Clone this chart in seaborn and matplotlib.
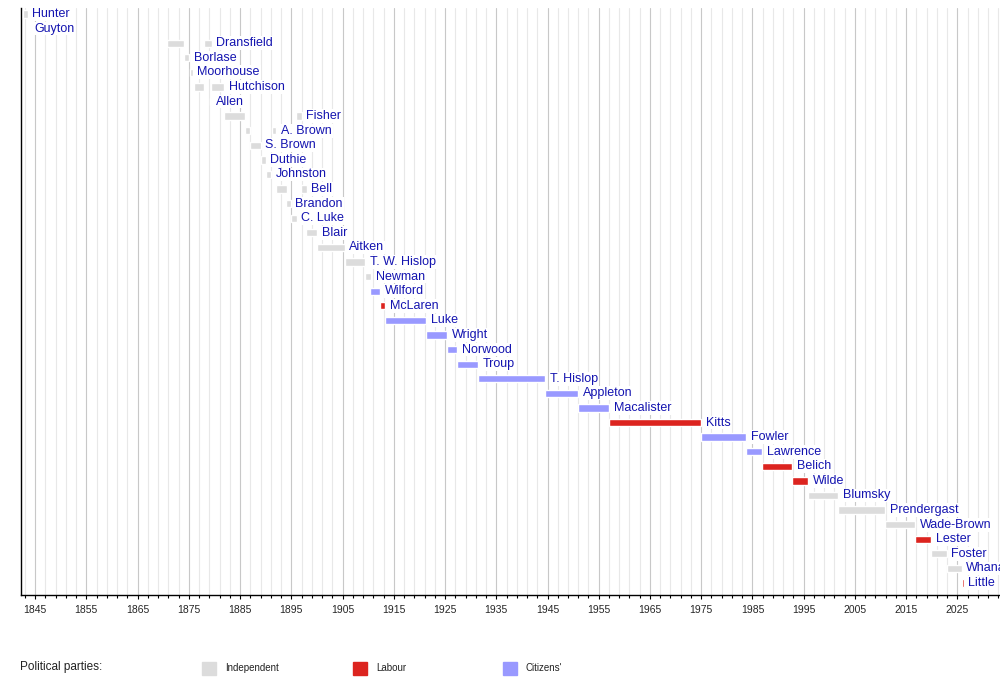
import pandas as pd
import matplotlib.pyplot as plt
import seaborn as sns
from matplotlib.patches import Rectangle
from matplotlib.ticker import MultipleLocator

# Rows of the timeline (top to bottom)
mayors = ["Hunter", "Guyton", "Dransfield", "Borlase", "Moorhouse", "Hutchison",
          "Allen", "Fisher", "A. Brown", "S. Brown", "Duthie", "Johnston", "Bell",
          "Brandon", "C. Luke", "Blair", "Aitken", "T. W. Hislop", "Newman",
          "Wilford", "McLaren", "Luke", "Wright", "Norwood", "Troup", "T. Hislop",
          "Appleton", "Macalister", "Kitts", "Fowler", "Lawrence", "Belich",
          "Wilde", "Blumsky", "Prendergast", "Wade-Brown", "Lester", "Foster",
          "Whanau", "Little"]

# Terms in office (one entry per term)
term_mayor = ["Hunter", "Guyton", "Dransfield", "Borlase", "Moorhouse", "Hutchison",
              "Dransfield", "Allen", "Hutchison", "Fisher", "A. Brown", "S. Brown",
              "Duthie", "Johnston", "A. Brown", "Bell", "Brandon", "C. Luke",
              "Fisher", "Bell", "Blair", "Aitken", "T. W. Hislop", "Newman",
              "Wilford", "McLaren", "Luke", "Wright", "Norwood", "Troup",
              "T. Hislop", "Appleton", "Macalister", "Kitts", "Fowler", "Lawrence",
              "Belich", "Wilde", "Blumsky", "Prendergast", "Wade-Brown", "Lester",
              "Foster", "Whanau", "Little"]
term_start = [1842.7, 1843.75, 1870.7, 1874.05, 1875.2, 1876.0,
              1878.0, 1879.1, 1879.4, 1881.9, 1886.0, 1887.0,
              1889.0, 1890.0, 1891.2, 1892.0, 1894.0, 1895.0,
              1896.0, 1896.9, 1897.9, 1900.1, 1905.4, 1909.4,
              1910.4, 1912.4, 1913.3, 1921.3, 1925.4, 1927.4,
              1931.5, 1944.6, 1951.0, 1957.0, 1975.0, 1983.8,
              1986.9, 1992.8, 1995.9, 2001.7, 2010.9, 2016.8,
              2019.9, 2022.9, 2025.8]
term_end = [1843.6, 1843.95, 1874.05, 1875.05, 1875.8, 1878.0,
            1879.5, 1879.35, 1881.9, 1886.0, 1887.0, 1889.0,
            1890.0, 1891.0, 1892.1, 1894.2, 1894.9, 1896.1,
            1897.0, 1898.0, 1900.1, 1905.4, 1909.4, 1910.6,
            1912.4, 1913.3, 1921.3, 1925.4, 1927.4, 1931.5,
            1944.6, 1951.0, 1957.0, 1975.0, 1983.8, 1986.9,
            1992.8, 1995.9, 2001.7, 2010.9, 2016.8, 2019.9,
            2022.9, 2025.8, 2026.2]
term_party = ["Independent"] * 24 + ["Citizens'", "Labour"] + ["Citizens'"] * 7 + \
             ["Labour", "Citizens'", "Citizens'", "Labour", "Labour",
              "Independent", "Independent", "Independent", "Labour",
              "Independent", "Independent", "Labour"]

parties = ["Independent", "Labour", "Citizens'"]
party_colors = {"Independent": "#dcdcdc", "Labour": "#dc241f", "Citizens'": "#9999ff"}

terms = pd.DataFrame({"mayor": term_mayor, "start": term_start,
                      "end": term_end, "party": term_party})
terms["row"] = terms["mayor"].map({m: i for i, m in enumerate(mayors)})

sns.set_theme(style="white")
plt.rcParams["font.family"] = ["Liberation Sans", "DejaVu Sans"]

fig = plt.figure(figsize=(10, 6.95), dpi=100)
ax = fig.add_axes([0.0207, 0.1439, 0.9793, 0.8446])
ax.set_axisbelow(True)

ax.barh(terms["row"], terms["end"] - terms["start"], left=terms["start"],
        height=0.5, color=terms["party"].map(party_colors), zorder=3)

# Names after each mayor's last bar, on a white patch that hides the grid
last_end = terms.groupby("row")["end"].max()
for row, end in last_end.items():
    ax.annotate(mayors[row], (end, row), xytext=(3.3, 0), textcoords="offset points",
                ha="left", va="center", fontsize=9, color="#1414b0",
                bbox=dict(facecolor="white", edgecolor="none", pad=0.6),
                annotation_clip=False, zorder=4)

ax.set_xlim(1842.2, 2033.3)
ax.set_ylim(39.82, -0.41)
ax.set_yticks([])

ax.xaxis.set_major_locator(MultipleLocator(10, offset=5))
ax.xaxis.set_minor_locator(MultipleLocator(2, offset=1))
ax.grid(which="major", axis="x", color="#c8c8c8", lw=0.8)
ax.grid(which="minor", axis="x", color="#e8e8e8", lw=0.8)
ax.tick_params(axis="x", which="major", direction="out", length=3, width=0.8,
               color="black", labelsize=7.5, pad=4, bottom=True)
ax.tick_params(axis="x", which="minor", direction="out", length=2, width=0.8,
               color="black", bottom=True)
ax.set_xticks(range(1845, 2026, 10))
ax.set_xticklabels([str(y) for y in range(1845, 2026, 10)])

for side in ["top", "right"]:
    ax.spines[side].set_visible(False)
for side in ["left", "bottom"]:
    ax.spines[side].set_color("black")
    ax.spines[side].set_linewidth(1.0)

# Party legend along the bottom
fig.text(0.020, 1 - 667 / 695, "Political parties:", fontsize=8.5,
         ha="left", va="center", color="#222222")
swatch_x = [202, 353, 503]
for px, party in zip(swatch_x, parties):
    fig.patches.append(Rectangle((px / 1000, 1 - 675 / 695), 14 / 1000, 13 / 695,
                                 transform=fig.transFigure,
                                 color=party_colors[party]))
    fig.text((px + 23) / 1000, 1 - 668 / 695, party, fontsize=7,
             ha="left", va="center", color="#222222")

fig.savefig("out.png", dpi=100)
